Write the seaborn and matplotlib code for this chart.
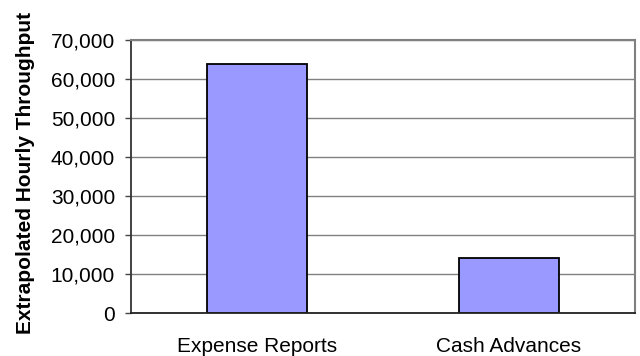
import matplotlib
matplotlib.use("Agg")
import matplotlib.pyplot as plt
import seaborn as sns
import pandas as pd
from matplotlib.ticker import FuncFormatter, FixedLocator

categories = ["Expense Reports", "Cash Advances"]
throughput = [63800, 14200]
y_ticks = [0, 10000, 20000, 30000, 40000, 50000, 60000, 70000]

sns.set_style("white")
plt.rcParams['font.family'] = ['Liberation Sans', 'DejaVu Sans']
plt.rcParams['text.color'] = 'black'
plt.rcParams['xtick.color'] = 'black'
plt.rcParams['ytick.color'] = 'black'
plt.rcParams['axes.labelcolor'] = 'black'

df = pd.DataFrame({"Category": categories, "Throughput": throughput})

fig = plt.figure(figsize=(6.4, 3.56), dpi=100)
ax = fig.add_axes([0.2047, 0.1194, 0.7875, 0.7680])

sns.barplot(data=df, x="Category", y="Throughput", ax=ax, color="#9999FF",
            edgecolor="black", linewidth=1.3, width=0.4, saturation=1)

ax.set_xlim(-0.5, 1.5)
ax.set_ylim(0, 70000)
ax.yaxis.set_major_locator(FixedLocator(y_ticks))
ax.yaxis.set_major_formatter(FuncFormatter(lambda v, p: f"{int(v):,}"))
ax.grid(axis="y", color="#808080", linewidth=1.0)
ax.set_axisbelow(True)

for s in ["top", "right"]:
    ax.spines[s].set_visible(True)
    ax.spines[s].set_color("#808080")
    ax.spines[s].set_linewidth(1.5)
ax.spines["left"].set_color("#333333")
ax.spines["left"].set_linewidth(1.3)
ax.spines["bottom"].set_color("#222222")
ax.spines["bottom"].set_linewidth(1.3)

# category labels centred, ticks at category boundaries
ax.set_xticks([0, 1])
ax.set_xticklabels(categories, fontsize=15)
ax.tick_params(axis="x", which="major", length=0, pad=17)
ax.set_xticks([-0.5, 0.5, 1.5], minor=True)
ax.tick_params(axis="x", which="minor", length=4.5, width=1.0, color="#444444", direction="out")
ax.tick_params(axis="y", which="major", length=4.5, width=1.0, color="#444444",
               direction="out", labelsize=15, pad=7, left=True)

ax.set_xlabel("")
ax.set_ylabel("Extrapolated Hourly Throughput", fontsize=15, fontweight="bold")
ax.yaxis.set_label_coords(-0.19, 0.513)

fig.savefig("out.png", dpi=100)
